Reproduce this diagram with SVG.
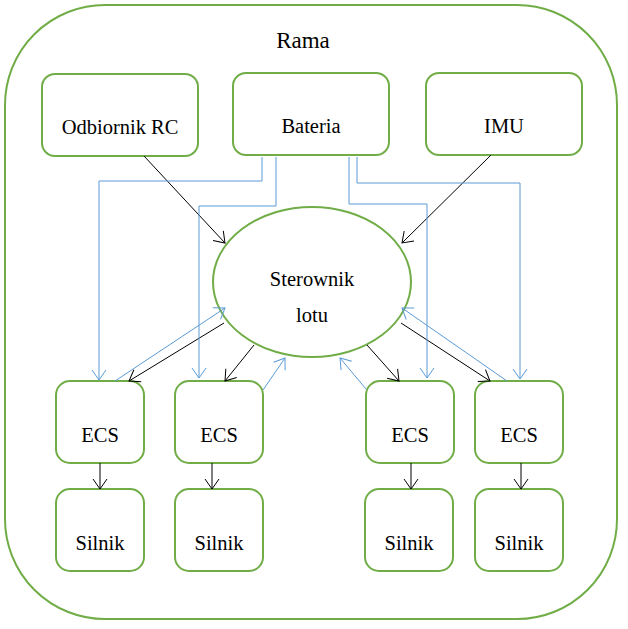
<svg xmlns="http://www.w3.org/2000/svg" width="628" height="629" viewBox="0 0 628 629">
<style>
.n{fill:#fff;stroke:#70AD47;stroke-width:2}
.t{font-family:'Liberation Serif','Times New Roman',serif;font-size:20.5px;fill:#000;text-anchor:middle}
.r{font-size:23px}
.k{fill:none;stroke:#000;stroke-width:1;marker-end:url(#ak)}
.b{fill:none;stroke:#5B9BD5;stroke-width:1;marker-end:url(#ab)}
</style>
<defs>
<marker id="ak" markerUnits="userSpaceOnUse" markerWidth="12" markerHeight="16" viewBox="0 0 12 16" refX="11" refY="8" orient="auto"><path d="M1,1 L11,8 L1,15" fill="none" stroke="#000" stroke-width="1"/></marker>
<marker id="ab" markerUnits="userSpaceOnUse" markerWidth="12" markerHeight="16" viewBox="0 0 12 16" refX="11" refY="8" orient="auto"><path d="M1,1 L11,8 L1,15" fill="none" stroke="#5B9BD5" stroke-width="1"/></marker>
</defs>
<rect width="628" height="629" fill="#fff"/>
<g id="rama">
<rect x="5" y="5" width="612" height="614" rx="100" ry="100" fill="#fff" stroke="#70AD47" stroke-width="2"/>
<text class="t r" x="303" y="48">Rama</text>
</g>
<g id="odbiornik"><rect class="n" x="42" y="74" width="156" height="82" rx="13"/><text class="t" x="120" y="134">Odbiornik RC</text></g>
<g id="bateria"><rect class="n" x="233" y="73" width="156" height="82" rx="13"/><text class="t" x="311" y="133">Bateria</text></g>
<g id="imu"><rect class="n" x="426" y="73" width="156" height="82" rx="13"/><text class="t" x="504" y="133">IMU</text></g>
<g id="sterownik"><ellipse class="n" cx="312" cy="282" rx="99" ry="75"/><text class="t" x="312" y="286">Sterownik</text><text class="t" x="312" y="322">lotu</text></g>
<g id="ecs1"><rect class="n" x="56" y="381" width="88" height="82" rx="14"/><text class="t" x="100" y="442">ECS</text></g>
<g id="ecs2"><rect class="n" x="175" y="381" width="88" height="82" rx="14"/><text class="t" x="219" y="442">ECS</text></g>
<g id="ecs3"><rect class="n" x="366" y="381" width="88" height="82" rx="14"/><text class="t" x="410" y="442">ECS</text></g>
<g id="ecs4"><rect class="n" x="475" y="381" width="88" height="82" rx="14"/><text class="t" x="519" y="442">ECS</text></g>
<g id="silnik1"><rect class="n" x="56" y="489" width="88" height="82" rx="14"/><text class="t" x="100" y="550">Silnik</text></g>
<g id="silnik2"><rect class="n" x="175" y="489" width="88" height="82" rx="14"/><text class="t" x="219" y="550">Silnik</text></g>
<g id="silnik3"><rect class="n" x="365" y="489" width="88" height="82" rx="14"/><text class="t" x="409" y="550">Silnik</text></g>
<g id="silnik4"><rect class="n" x="475" y="489" width="88" height="82" rx="14"/><text class="t" x="519" y="550">Silnik</text></g>
<g id="connectors">
<path class="k" d="M144,156 L225,243"/>
<path class="k" d="M491,155 L402,243"/>
<path class="k" d="M224,323 L129,381"/>
<path class="k" d="M254,345 L225,381"/>
<path class="k" d="M367,345 L399,381"/>
<path class="k" d="M401,323 L490,381"/>
<path class="k" d="M100,463 L100,489"/>
<path class="k" d="M212,463 L212,489"/>
<path class="k" d="M411,463 L411,489"/>
<path class="k" d="M521,463 L521,489"/>
<path class="b" d="M262,157 L262,181 L99,181 L99,380"/>
<path class="b" d="M276,157 L276,206 L199,206 L199,378"/>
<path class="b" d="M349,157 L349,204 L427,204 L427,378"/>
<path class="b" d="M357,157 L357,183 L520,183 L520,379"/>
<path class="b" d="M115,381 L225,308"/>
<path class="b" d="M263,390 L285,358"/>
<path class="b" d="M366,389 L340,358"/>
<path class="b" d="M507,381 L402,308"/>
</g>
</svg>
